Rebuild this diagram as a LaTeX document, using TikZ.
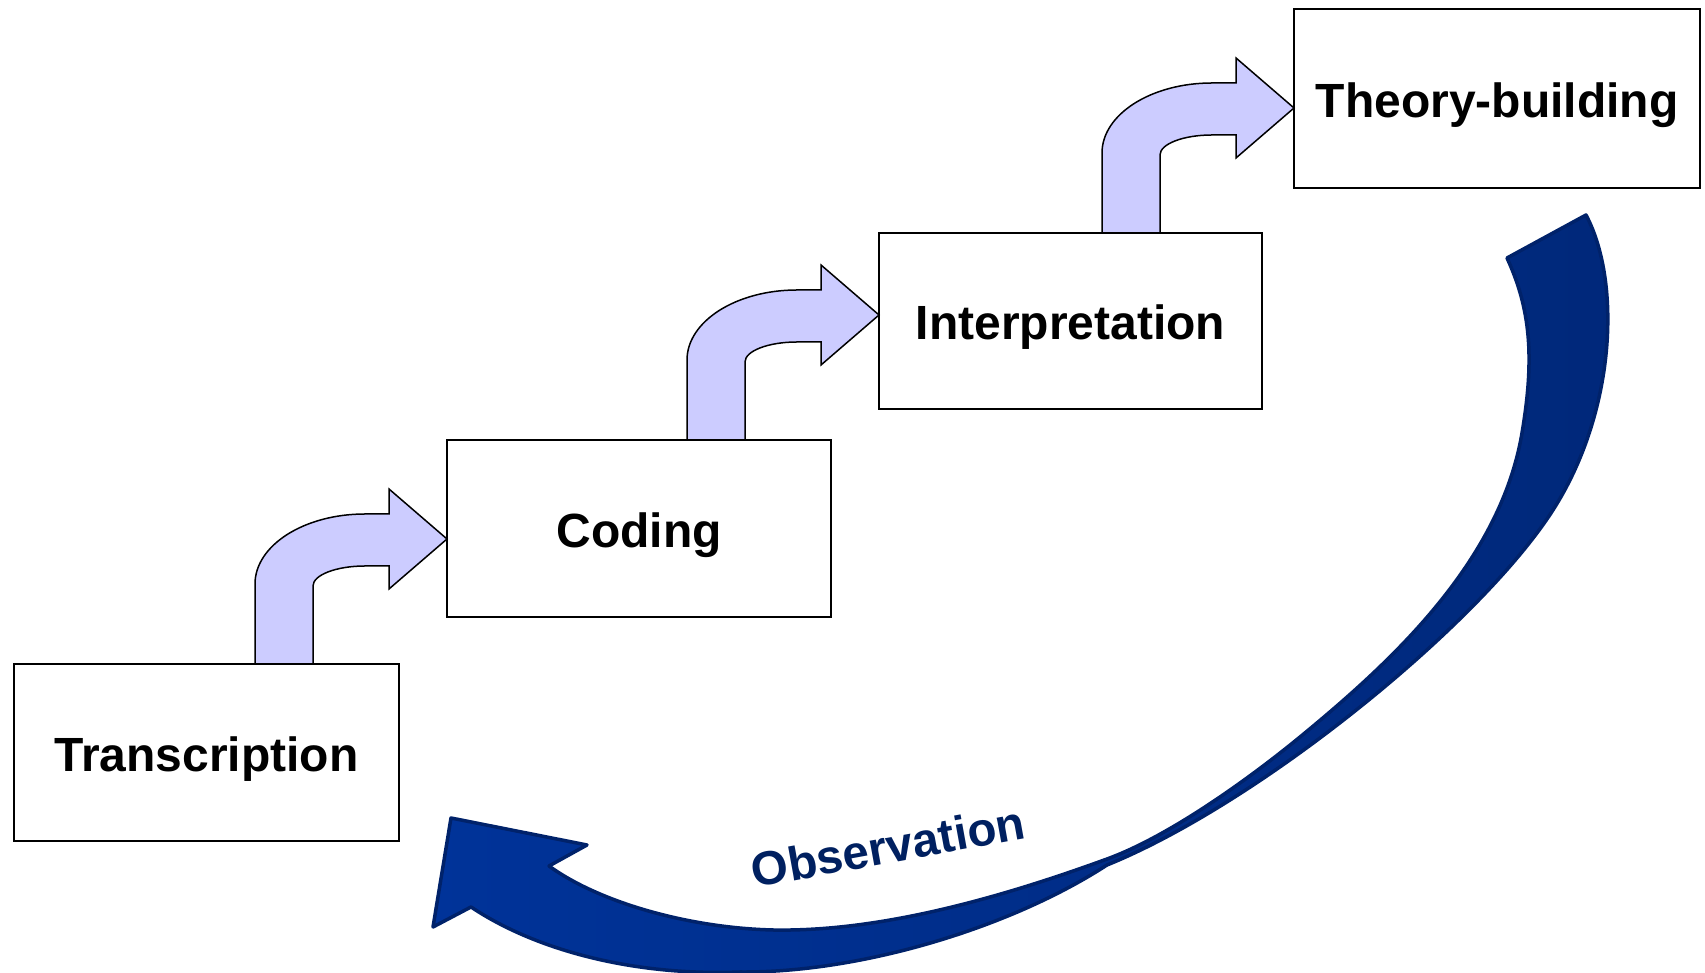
\documentclass[tikz,border=0pt]{standalone}
\usepackage{fontspec}
\setmainfont{Liberation Sans}
\definecolor{lav}{HTML}{CCCCFF}
\definecolor{navyedge}{HTML}{00226A}
\definecolor{blueL}{HTML}{003399}
\definecolor{blueR}{HTML}{00287A}
\definecolor{obstext}{HTML}{002060}
\begin{document}
\begin{tikzpicture}[x=1pt,y=1pt,
  box/.style={draw=black, line width=2pt, fill=white, minimum width=#1,
    minimum height=177pt, inner sep=0pt, outer sep=0pt,
    font=\fontsize{48}{50}\selectfont\bfseries, text height=38pt, text depth=0pt},
  bentarrow/.style={draw=black, line width=1.5pt, fill=lav, line join=miter},
  cycleshape/.style={draw=navyedge, line width=3.5pt, line join=round,
    left color=blueL, right color=blueR}]
\useasboundingbox (0,0) rectangle (1705,973);

% the four stages
\node[box=385pt] (tr) at (206.5,220.5) {Transcription};
\node[box=384pt] (co) at (639,444.5) {Coding};
\node[box=383pt, minimum height=176pt] (in) at (1070.5,652) {Interpretation};
\node[box=406pt, minimum height=179pt] (th) at (1497,874.5) {Theory-building};

% bent arrows leading up from one stage to the next
\foreach \src/\dst in {tr/co, co/in, in/th}{
  \begin{scope}[shift={(\dst.west |- \src.north)}]
    \draw[bentarrow] (-192,0) -- (-192,80)
      arc[start angle=180, end angle=90, x radius=110, y radius=70]
      -- (-58,150) -- (-58,175) -- (0,125) -- (-58,75) -- (-58,98) -- (-82,98)
      arc[start angle=90, end angle=180, x radius=52, y radius=20]
      -- (-134,0) -- cycle;
  \end{scope}
}

% feedback arrow from theory back to transcription
\coordinate (tailin) at (1507,715);
\coordinate (tailout) at (1586,758);
\coordinate (twist) at (1107,108);
\coordinate (notchlo) at (471,66);
\coordinate (barblo) at (433,46);
\coordinate (tip) at (451,155);
\coordinate (barbhi) at (587,128);
\coordinate (notchhi) at (549,107);
\draw[cycleshape] (tailin) -- (tailout)
  .. controls (1622,690) and (1615,560) .. (1553,463)
  .. controls (1480,349) and (1260,170) .. (twist)
  .. controls (1010,45) and (860,0) .. (740,1)
  .. controls (640,-3) and (540,20) .. (notchlo)
  -- (barblo) -- (tip) -- (barbhi) -- (notchhi)
  .. controls (600,70) and (690,45) .. (773,43)
  .. controls (880,41) and (1000,75) .. (1107,114)
  .. controls (1170,137) and (1250,195) .. (1300,236)
  .. controls (1390,310) and (1500,410) .. (1522,540)
  .. controls (1535,617) and (1530,665) .. (tailin)
  -- cycle;

\node[font=\fontsize{47.5}{50}\selectfont\bfseries, text=obstext, rotate=10.3,
  anchor=base, inner sep=0pt] (obs) at (891,110) {Observation};
\end{tikzpicture}
\end{document}
